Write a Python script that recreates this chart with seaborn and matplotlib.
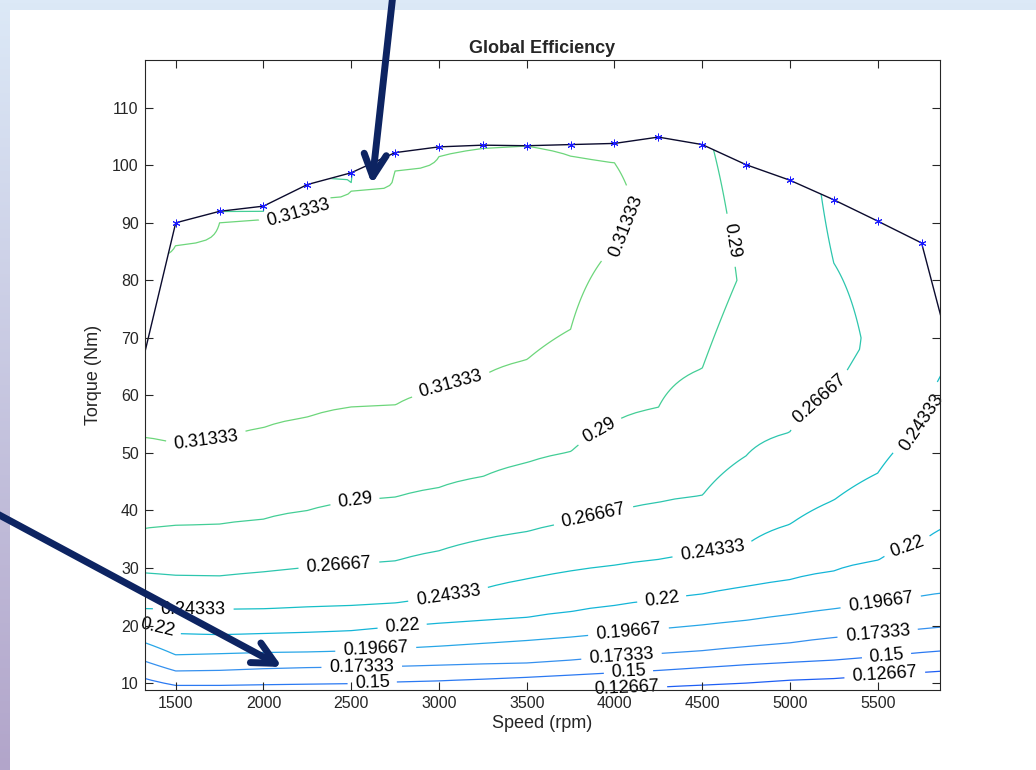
import numpy as np
import matplotlib
matplotlib.use("Agg")
import matplotlib.pyplot as plt
from matplotlib.colors import LinearSegmentedColormap
from matplotlib.patches import Rectangle
import seaborn as sns

nan = np.nan

# efficiency map: speed columns (rpm) and the torque (Nm) where each
# efficiency level is crossed in that column
speed = [1250, 1500, 1750, 2000, 2250, 2500, 2750, 3000, 3250, 3500,
         3750, 4000, 4250, 4500, 4750, 5000, 5250, 5500, 5750, 6000]
levels = [0.12667, 0.15, 0.17333, 0.19667, 0.22, 0.24333, 0.26667, 0.29, 0.31333]

t_12667 = [8.0, 7.0, 7.0, 7.2, 7.2, 7.2, 7.2, 7.2, 7.6, 8.0,
           8.5, 9.0, 9.35, 9.7, 10.0, 10.5, 10.85, 11.4, 11.9, 12.4]
t_15 = [11.5, 9.6, 9.6, 9.7, 9.8, 9.9, 10.2, 10.4, 10.7, 11.0,
        11.4, 11.8, 12.2, 12.7, 13.2, 13.6, 14.0, 14.6, 15.3, 15.9]
t_17333 = [14.6, 12.1, 12.2, 12.5, 12.7, 12.8, 12.9, 13.1, 13.3, 13.5,
           14.0, 14.6, 15.1, 15.6, 16.3, 17.0, 17.9, 18.6, 19.4, 20.1]
t_19667 = [17.8, 14.9, 15.1, 15.3, 15.4, 15.6, 16.0, 16.4, 16.9, 17.4,
           18.0, 18.7, 19.4, 20.1, 20.9, 21.9, 22.9, 23.9, 25.1, 26.1]
t_22 = [20.5, 18.6, 18.4, 18.6, 18.8, 19.1, 19.8, 20.4, 20.9, 21.4,
        22.4, 23.5, 24.5, 25.5, 26.8, 28.0, 29.5, 31.3, 34.5, 38.5]
t_24333 = [23.0, 22.8, 22.8, 22.9, 23.2, 23.5, 23.9, 24.8, 26.4, 28.1,
           29.5, 30.5, 31.5, 32.6, 34.0, 37.6, 41.8, 46.5, 55.0, 69.0]
t_26667 = [29.3, 28.7, 28.6, 29.3, 30.1, 30.6, 31.2, 33.0, 35.0, 36.3,
           38.0, 39.8, 41.4, 42.6, 49.5, 53.6, 60.5, nan, nan, nan]
t_29 = [36.5, 37.4, 37.6, 38.5, 40.0, 41.6, 42.3, 44.0, 45.9, 48.3,
        50.2, 55.4, 57.9, 64.7, nan, nan, nan, nan, nan, nan]
t_31333 = [53.0, 51.7, 52.3, 54.4, 56.2, 58.0, 58.3, 61.0, 63.4, 66.2,
           71.5, 86.0, nan, nan, nan, nan, nan, nan, nan, nan]

# second crossings near full load, where efficiency falls again
t_31333_hi = [83.5, 86.1, 90.0, 91.4, 94.0, 95.5, 99.0, 101.5, 102.9, 103.3,
              101.6, 100.4, nan, nan, nan, nan, nan, nan, nan, nan]
t_29_hi = [87.0, 89.5, 91.6, 92.0, 97.8, 97.0, 104.0, nan, nan, nan,
           nan, nan, nan, nan, nan, nan, nan, nan, nan, nan]
t_26667_hi = [nan, nan, nan, nan, nan, nan, nan, nan, nan, nan,
              nan, nan, nan, nan, nan, nan, 83.0, nan, nan, nan]

# best point of each column and value at the top of the map
peak_torque = [70, 70, 72, 74, 76, 78, 80, 82, 84, 85,
               88, 93, 90, 80, 80, 80, 70, 68, 85, 100]
peak_eff = [0.33, 0.33, 0.33, 0.33, 0.33, 0.33, 0.33, 0.33, 0.33, 0.33,
            0.32, 0.32, 0.305, 0.2995, 0.2875, 0.28, 0.275, 0.262, 0.255, 0.25]
top_eff = [0.28, 0.28, 0.28, 0.28, 0.28, 0.28, 0.28, 0.30, 0.30, 0.30,
           0.30, 0.30, 0.30, 0.285, 0.28, 0.275, 0.25, 0.25, 0.25, 0.249]
floor_eff = 0.08

# full load curve
bound_speed = speed
bound_torque = [58.0, 90.0, 92.0, 92.9, 96.65, 98.7, 102.2, 103.2, 103.5, 103.4,
                103.6, 103.8, 104.9, 103.6, 100.1, 97.4, 94.0, 90.3, 86.5, 57.5]

line_colors = ['#1e5ff4', '#2b79f2', '#3590ef', '#27a6e7', '#14b5d8',
               '#16bfc7', '#2dc6ae', '#43ce96', '#6dd67b']

label_pos = [(1675, 51.8), (3060, 62.5), (2190, 93.0), (4060, 89.5),
             (2520, 42.0), (3920, 53.5), (4670, 87.0),
             (2430, 30.4), (3880, 39.2), (5180, 58.5),
             (1600, 23.2), (3050, 25.6), (4560, 32.7), (5780, 55.0),
             (1395, 19.9), (2790, 20.0), (4270, 24.4), (5670, 33.6),
             (2640, 15.7), (4080, 18.9), (5520, 23.5),
             (2560, 12.8), (4040, 14.7), (5500, 18.5),
             (2620, 9.8), (4080, 11.8), (5550, 14.9),
             (4070, 9.1), (5540, 11.6)]

arrow_heads = [(2618, 96.7), (2106, 12.8)]
arrow_tails = [(393, 776), (-10, 260)]   # figure pixels

# build the efficiency grid column by column
tq = np.arange(0, 125.5, 0.5)
lower = [t_12667, t_15, t_17333, t_19667, t_22, t_24333, t_26667, t_29, t_31333]
upper = [(t_31333_hi, 0.31333), (t_29_hi, 0.29), (t_26667_hi, 0.26667)]
eff = np.zeros((len(tq), len(speed)))
for j in range(len(speed)):
    pts = [(0.0, floor_eff)]
    pts += [(col[j], lv) for col, lv in zip(lower, levels) if not np.isnan(col[j])]
    pts.append((peak_torque[j], peak_eff[j]))
    pts += [(col[j], lv) for col, lv in upper if not np.isnan(col[j])]
    pts.append((125.0, top_eff[j]))
    pts.sort()
    t, e = zip(*pts)
    eff[:, j] = np.interp(tq, t, e)

sns.set_style("ticks")
plt.rcParams['font.family'] = ['Liberation Sans', 'DejaVu Sans']

W, H = 1036, 770
fig = plt.figure(figsize=(W / 100, H / 100), dpi=100)

# slide background
bg = fig.add_axes([0, 0, 1, 1], zorder=-10)
grad = np.linspace(0, 1, 256).reshape(-1, 1)
slide_cm = LinearSegmentedColormap.from_list('slide', ['#dce9f7', '#b2a5ca'])
bg.imshow(grad, aspect='auto', cmap=slide_cm, extent=[0, 1, 0, 1])
bg.add_patch(Rectangle((10 / W, 0), 1, 1 - 10 / H, color='white', lw=0))
bg.set_xlim(0, 1)
bg.set_ylim(0, 1)
bg.axis('off')

ax = fig.add_axes([145 / W, 1 - 690 / H, 795 / W, 630 / H])

cs = ax.contour(speed, tq, eff, levels=levels, colors=line_colors, linewidths=0.9)
labels = ax.clabel(cs, cs.levels, inline=True, inline_spacing=6, fontsize=13,
                   colors='black', fmt=lambda v: f'{v:g}', manual=label_pos)
for lab in labels:
    lab.set_clip_on(False)

# blank out everything above the full load curve
ax.fill_between(bound_speed, bound_torque, 130, color='white', lw=0, zorder=4)
sns.lineplot(x=bound_speed, y=bound_torque, sort=False, color='#0b0b2e',
             lw=1.0, ax=ax, zorder=5)
ax.plot(bound_speed, bound_torque, ls='none', marker=(6, 2, 0), ms=5.5,
        mec='#1a1aff', mew=0.7, zorder=6)

ax.set_xlim(1325, 5855)
ax.set_ylim(8.8, 118.3)
ax.set_xticks(range(1500, 5501, 500))
ax.set_yticks(range(10, 111, 10))
ax.tick_params(direction='in', length=6, width=0.8, top=True, right=True,
               labelsize=11.5, colors='#262626', pad=4.5)
for sp in ax.spines.values():
    sp.set_color('#262626')
    sp.set_linewidth(0.8)
    sp.set_zorder(10)
ax.xaxis.set_zorder(10)
ax.yaxis.set_zorder(10)

ax.set_xlabel('Speed (rpm)', fontsize=13, color='#262626', labelpad=3)
ax.set_ylabel('Torque (Nm)', fontsize=13, color='#262626', labelpad=7)
ax.set_title('Global Efficiency', fontsize=13, fontweight='bold', pad=5)

for head, tail in zip(arrow_heads, arrow_tails):
    ann = ax.annotate('', xy=head, xycoords='data', xytext=tail,
                      textcoords='figure pixels', annotation_clip=False,
                      arrowprops=dict(arrowstyle='->, head_length=1.6, head_width=0.8',
                                      lw=5, color='#0d2462', shrinkA=0, shrinkB=0),
                      zorder=12)
    ann.arrow_patch.set_clip_on(False)

fig.savefig('out.png', dpi=100)
